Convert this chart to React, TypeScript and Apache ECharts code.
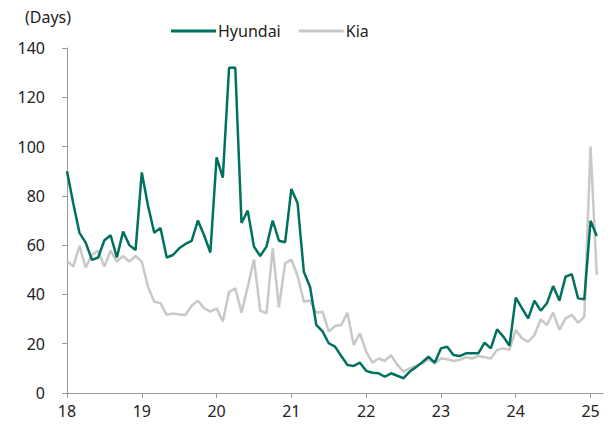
import React, { useEffect, useRef } from "react";
import * as echarts from "echarts";

const yearLabels = ["18", "19", "20", "21", "22", "23", "24", "25"];

// Monthly from Jan 2018 to Feb 2025 (86 points); axis extends one month further
const hyundai = [
  90, 77, 65, 61, 54, 55, 62, 64, 55, 65.5, 60, 58,
  89.5, 76, 65, 67, 55, 56, 58.7, 60.5, 61.7, 70, 64, 57,
  95.6, 87.4, 132, 132, 69, 74, 59.4, 55.6, 59.4, 70, 61.8, 61.2,
  82.8, 77, 49.2, 43, 27.6, 25, 20.2, 18.8, 15, 11.4, 11, 12.3,
  9, 8.2, 8, 6.6, 8, 7, 6, 8.7, 10.5, 12.5, 14.7, 12.3,
  18.1, 18.8, 15.4, 15, 16.1, 16.1, 16.1, 20.4, 18.1, 25.8, 22.9, 19.2,
  38.7, 34.4, 30.3, 37.5, 33.4, 36.4, 43.4, 37.5, 47.2, 48.2, 38.4, 38,
  69.9, 63.7,
];

const kia = [
  53.6, 51.3, 59.7, 51, 56, 57.8, 51.3, 57.8, 53.3, 55.6, 53.3, 55.6,
  53.3, 43, 37, 36.4, 31.7, 32.3, 31.9, 31.7, 35.4, 37.5, 34.4, 33,
  34.4, 29, 41, 42.5, 32.6, 43.1, 54.2, 33.4, 32.3, 58.7, 34.8, 52.6,
  54.2, 47.5, 37, 37.5, 32.6, 33, 24.9, 27.2, 27.6, 32.6, 19.5, 24.2,
  16.8, 12.3, 14, 13, 15.4, 11.4, 8.7, 10, 11, 12, 13.7, 12,
  14, 13.7, 13, 13.5, 14.5, 14, 15, 14.5, 14, 17.5, 18.1, 17.5,
  25.6, 22.2, 20.8, 23.5, 29.9, 27.6, 32.6, 25.6, 30.3, 31.7, 28.5, 31,
  100, 47.9,
];

const months: string[] = [];
for (let i = 0; i < 87; i++) {
  months.push(i % 12 === 0 ? yearLabels[i / 12] : String(i));
}

const FONT = "'Noto Sans', sans-serif";

export default function App() {
  const ref = useRef<HTMLDivElement>(null);
  useEffect(() => {
    if (!ref.current) return;
    const chart = echarts.init(ref.current, undefined, { renderer: "svg" });
    chart.setOption({
      animation: false,
      backgroundColor: "#ffffff",
      textStyle: { fontFamily: FONT },
      grid: { left: 67, right: 11, top: 48, bottom: 32, containLabel: false },
      legend: {
        top: 23,
        left: 171,
        padding: 0,
        itemWidth: 45,
        itemHeight: 3,
        itemGap: 18,
        icon: "rect",
        textStyle: { fontSize: 16, color: "#222", fontFamily: FONT, padding: [0, 0, 0, -3] },
        data: ["Hyundai", "Kia"],
      },
      graphic: [
        {
          type: "text",
          left: 25,
          top: 9,
          style: { text: "(Days)", fontSize: 16, fill: "#222", fontFamily: FONT },
        },
      ],
      xAxis: {
        type: "category",
        data: months,
        boundaryGap: false,
        axisLine: { lineStyle: { color: "#999", width: 1 } },
        axisTick: {
          show: true,
          length: 5,
          interval: (i: number) => i % 12 === 0,
          lineStyle: { color: "#999" },
        },
        axisLabel: {
          interval: (i: number) => i % 12 === 0,
          fontSize: 16,
          color: "#222",
          margin: 10,
          fontFamily: FONT,
        },
        splitLine: { show: false },
      },
      yAxis: {
        type: "value",
        min: 0,
        max: 140,
        interval: 20,
        axisLine: { show: true, lineStyle: { color: "#999", width: 1 } },
        axisTick: { show: true, length: 5, inside: false, lineStyle: { color: "#999" } },
        axisLabel: { fontSize: 16, color: "#222", margin: 22, fontFamily: FONT },
        splitLine: { show: false },
      },
      series: [
        {
          name: "Hyundai",
          type: "line",
          data: hyundai,
          symbol: "none",
          color: "#00705F",
          lineStyle: { width: 2.5, color: "#00705F" },
          z: 3,
        },
        {
          name: "Kia",
          type: "line",
          data: kia,
          symbol: "none",
          color: "#C8C8C8",
          lineStyle: { width: 2.5, color: "#C8C8C8" },
          z: 2,
        },
      ],
    });
    return () => chart.dispose();
  }, []);
  return <div ref={ref} style={{ width: 614, height: 425, margin: -8 }} />;
}
